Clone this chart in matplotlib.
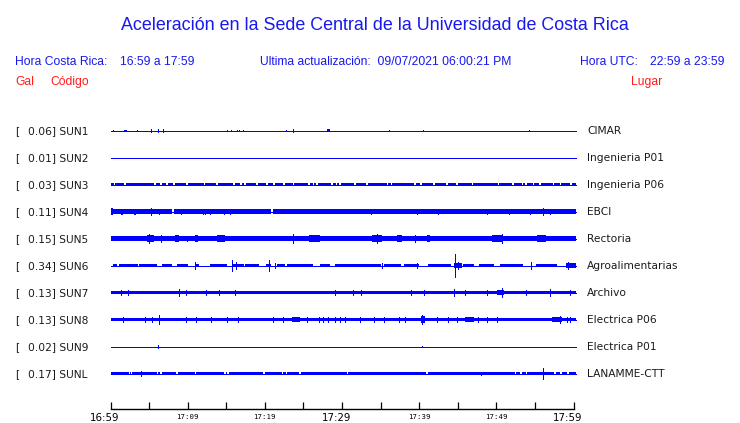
import matplotlib
matplotlib.use("Agg")
import matplotlib.pyplot as plt
from matplotlib.transforms import offset_copy

# ---- data -----------------------------------------------------------------
STATIONS = ["SUN1", "SUN2", "SUN3", "SUN4", "SUN5", "SUN6", "SUN7", "SUN8", "SUN9", "SUNL"]
PEAK_GAL = [0.06, 0.01, 0.03, 0.11, 0.15, 0.34, 0.13, 0.13, 0.02, 0.17]
PLACES = ["CIMAR", "Ingenieria P01", "Ingenieria P06", "EBCI", "Rectoria",
          "Agroalimentarias", "Archivo", "Electrica P06", "Electrica P01", "LANAMME-CTT"]

# background noise level of each trace (gal)
NOISE_GAL = [0.0, 0.0, 0.045, 0.065, 0.072, 0.0, 0.052, 0.056, 0.0, 0.047]

# minutes after 16:59 where the noise band drops out
GAPS = {
    "SUN3": [0.5, 1.9, 5.8, 6.5, 7.3, 8.2, 9.9, 12.2, 13.8, 16.0, 16.9, 17.4, 19.0, 20.3,
             21.2, 22.5, 23.7, 25.7, 26.3, 26.8, 28.7, 29.3, 29.7, 31.7, 33.2, 35.9, 36.4,
             39.5, 40.2, 41.9, 43.6, 44.9, 46.9, 50.3, 52.2, 53.4, 53.8, 54.8, 55.7, 57.4,
             58.3, 59.7],
    "SUN4": [8.1, 20.9],
    "SUNL": [2.5, 2.7, 6.1, 6.5, 8.6, 11.0, 14.8, 15.2, 19.9, 22.3, 22.8, 24.6, 30.7,
             41.0, 52.5, 53.2, 53.9, 57.6, 58.4, 59.3],
}

# (start min, end min, amplitude gal) stretches of stronger shaking
BURSTS = {
    "SUN1": [(1.8, 2.1, 0.03), (28.0, 28.4, 0.035)],
    "SUN4": [(0.0, 0.3, 0.11)],
    "SUN5": [(0.0, 1.3, 0.09), (4.75, 5.6, 0.12), (8.4, 8.9, 0.11), (11.0, 11.4, 0.095),
             (13.8, 14.9, 0.095), (25.7, 27.2, 0.095), (28.9, 31.1, 0.09), (31.9, 33.2, 0.09),
             (33.9, 35.2, 0.11), (37.1, 37.8, 0.095), (41.0, 41.4, 0.095), (43.6, 44.7, 0.09),
             (46.6, 47.9, 0.085), (49.4, 50.9, 0.11), (52.2, 52.7, 0.09), (55.3, 56.5, 0.095),
             (57.9, 60.3, 0.085)],
    "SUN6": [(0.3, 0.9, 0.04), (1.1, 3.5, 0.05), (3.7, 6.0, 0.04), (6.7, 8.0, 0.04),
             (8.6, 10.1, 0.05), (11.0, 11.5, 0.04), (12.9, 15.1, 0.06), (15.8, 17.3, 0.05),
             (17.4, 19.2, 0.05), (20.1, 20.8, 0.06), (21.6, 22.6, 0.04), (22.9, 26.3, 0.05),
             (27.2, 28.5, 0.04), (29.1, 35.0, 0.04), (35.4, 37.6, 0.05), (38.0, 40.0, 0.06),
             (41.1, 44.1, 0.04), (44.5, 45.6, 0.07), (45.7, 47.1, 0.04), (47.7, 49.7, 0.05),
             (50.5, 53.5, 0.04), (55.1, 57.9, 0.05), (59.0, 60.3, 0.07)],
    "SUN7": [(50.1, 51.0, 0.085)],
    "SUN8": [(23.5, 24.6, 0.08), (40.2, 40.7, 0.1), (46.0, 47.1, 0.07), (57.2, 58.5, 0.09)],
}

# (minute, amplitude gal) single peaks
SPIKES = {
    "SUN1": [(0.3, 0.03), (3.4, 0.02), (5.2, 0.04), (6.1, 0.06), (6.8, 0.04), (15.1, 0.02),
             (15.6, 0.02), (16.4, 0.03), (16.6, 0.03), (17.2, 0.02), (22.7, 0.02),
             (23.7, 0.06), (36.1, 0.03), (40.5, 0.03), (54.2, 0.03)],
    "SUN4": [(1.4, 0.08), (1.5, 0.07), (3.0, 0.08), (3.2, 0.07), (5.3, 0.10), (6.3, 0.07),
             (9.1, 0.07), (12.0, 0.07), (12.3, 0.07), (12.9, 0.07), (14.7, 0.07),
             (15.5, 0.08), (33.8, 0.08), (39.7, 0.09), (42.4, 0.08), (48.8, 0.07),
             (51.6, 0.07), (54.3, 0.07), (56.1, 0.11), (57.0, 0.08)],
    "SUN5": [(4.97, 0.15), (6.5, 0.10), (9.9, 0.09), (23.7, 0.14), (34.5, 0.15),
             (39.5, 0.10), (50.7, 0.14)],
    "SUN6": [(10.9, 0.10), (15.8, 0.18), (16.3, 0.11), (20.5, 0.18), (21.3, 0.09),
             (35.2, 0.09), (39.7, 0.09), (44.6, 0.34), (45.0, 0.12), (54.5, 0.10),
             (59.3, 0.12)],
    "SUN7": [(1.4, 0.07), (2.3, 0.07), (8.9, 0.12), (9.8, 0.07), (12.4, 0.08), (14.0, 0.07),
             (16.1, 0.07), (29.1, 0.08), (31.4, 0.07), (32.5, 0.08), (38.9, 0.07),
             (40.6, 0.07), (44.5, 0.12), (46.0, 0.07), (48.8, 0.07), (50.7, 0.13),
             (53.8, 0.07), (56.9, 0.12), (59.6, 0.07)],
    "SUN8": [(1.6, 0.08), (4.5, 0.07), (5.4, 0.07), (6.3, 0.13), (9.8, 0.08), (11.1, 0.08),
             (13.0, 0.09), (15.1, 0.07), (16.5, 0.07), (21.1, 0.09), (22.4, 0.09),
             (25.5, 0.08), (27.0, 0.08), (27.6, 0.08), (28.2, 0.08), (29.1, 0.08),
             (29.7, 0.08), (30.4, 0.08), (32.3, 0.08), (34.2, 0.08), (35.5, 0.08),
             (37.4, 0.07), (38.2, 0.07), (40.4, 0.13), (42.3, 0.07), (43.7, 0.08),
             (44.9, 0.08), (47.6, 0.07), (48.8, 0.07), (50.1, 0.08), (58.2, 0.12),
             (59.2, 0.08), (59.6, 0.08)],
    "SUN9": [(6.2, 0.04), (40.4, 0.02)],
    "SUNL": [(3.9, 0.08), (48.0, 0.06), (56.1, 0.17)],
}

TICK_MINUTES = list(range(0, 61, 5))
TICK_LABELS = ["16:59", "", "17:09", "", "17:19", "", "17:29", "", "17:39", "", "17:49", "", "17:59"]
BIG_TICKS = ["16:59", "17:29", "17:59"]

# ---- layout / style ---------------------------------------------------------
W, H = 740, 423
BLUE = "#0000ff"
HEAD_BLUE = "#1818f0"
RED = "#ff1c1c"
TXT = "#1a1a1a"
GAIN = 33.0          # pixels per gal
ROW0, ROW_STEP = 130.5, 27   # half-pixel so 1px lines sit on a pixel row
T_END = 60.3


def fx(x):
    return x / W


def fy(y):
    return 1 - y / H


def band_pieces(gaps, width=0.22):
    pieces, start = [], 0.0
    for g in sorted(gaps):
        pieces.append((start, g - width / 2))
        start = g + width / 2
    pieces.append((start, T_END))
    return pieces


fig = plt.figure(figsize=(W / 100, H / 100), dpi=100)

# header
fig.text(fx(375), fy(29.5), "Aceleración en la Sede Central de la Universidad de Costa Rica",
         ha="center", va="baseline", color=HEAD_BLUE, fontsize=12.9, family="Liberation Sans")
head = [(15, "Hora Costa Rica:"), (120.5, "16:59 a 17:59"),
        (260, "Ultima actualización:  09/07/2021 06:00:21 PM"),
        (580.5, "Hora UTC:"), (650.5, "22:59 a 23:59")]
for x, s in head:
    fig.text(fx(x), fy(65), s, ha="left", va="baseline", color=HEAD_BLUE,
             fontsize=8.75, family="Liberation Sans")
for x, s in [(15, "Gal"), (50.5, "Código"), (630.5, "Lugar")]:
    fig.text(fx(x), fy(85), s, ha="left", va="baseline", color=RED,
             fontsize=8.75, family="Liberation Sans")

# traces
ax = fig.add_axes([fx(110.5), fy(409), fx(573.5) - fx(110.5), fy(115) - fy(409)])
ax.set_xlim(0, 60)
ax.set_ylim(409, 115)
for side in ("top", "left", "right"):
    ax.spines[side].set_visible(False)
ax.spines["bottom"].set_linewidth(1.0)
ax.set_yticks([])

for i, code in enumerate(STATIONS):
    y0 = ROW0 + ROW_STEP * i
    ax.plot([0, T_END], [y0, y0], color=BLUE, lw=0.72, clip_on=False, antialiased=False)
    if NOISE_GAL[i] > 0:
        h = NOISE_GAL[i] * GAIN
        for s, e in band_pieces(GAPS.get(code, [])):
            ax.fill_between([s, e], y0 - h, y0 + h, color=BLUE, lw=0, clip_on=False,
                            antialiased=False)
    for s, e, a in BURSTS.get(code, []):
        h = a * GAIN
        ax.fill_between([s, e], y0 - h, y0 + h, color=BLUE, lw=0, clip_on=False,
                        antialiased=False)
    for m, a in SPIKES.get(code, []):
        h = a * GAIN
        ax.vlines(m, y0 - h, y0 + h, color=BLUE, lw=0.72, clip_on=False, antialiased=False)

    ty = fy(y0 + 3.8)
    fig.text(fx(15), ty, "[", ha="left", va="baseline", color=TXT,
             fontsize=7.7, family="DejaVu Sans")
    fig.text(fx(27.5), ty, f"{PEAK_GAL[i]:.2f}] {code}", ha="left", va="baseline",
             color=TXT, fontsize=7.7, family="DejaVu Sans")
    fig.text(fx(587), ty, PLACES[i], ha="left", va="baseline", color=TXT,
             fontsize=7.7, family="DejaVu Sans")

# time axis: ticks point up into the plot, labels drawn below
ax.set_xticks(TICK_MINUTES)
ax.set_xticklabels([])
ax.tick_params(axis="x", direction="in", length=5.3, width=0.9, colors="black")
big_shift = offset_copy(ax.transData, fig=fig, x=-5.5, y=0, units="dots")
for m, s in zip(TICK_MINUTES, TICK_LABELS):
    if not s:
        continue
    if s in BIG_TICKS:
        ax.text(m, 421, s, transform=big_shift, ha="center", va="baseline",
                fontsize=7.4, family="DejaVu Sans", color="black", clip_on=False)
    else:
        ax.text(m, 418.5, s, ha="center", va="baseline", fontsize=5.3,
                family="DejaVu Sans Mono", color="black", clip_on=False)

fig.savefig("out.png", dpi=100)
plt.close(fig)
